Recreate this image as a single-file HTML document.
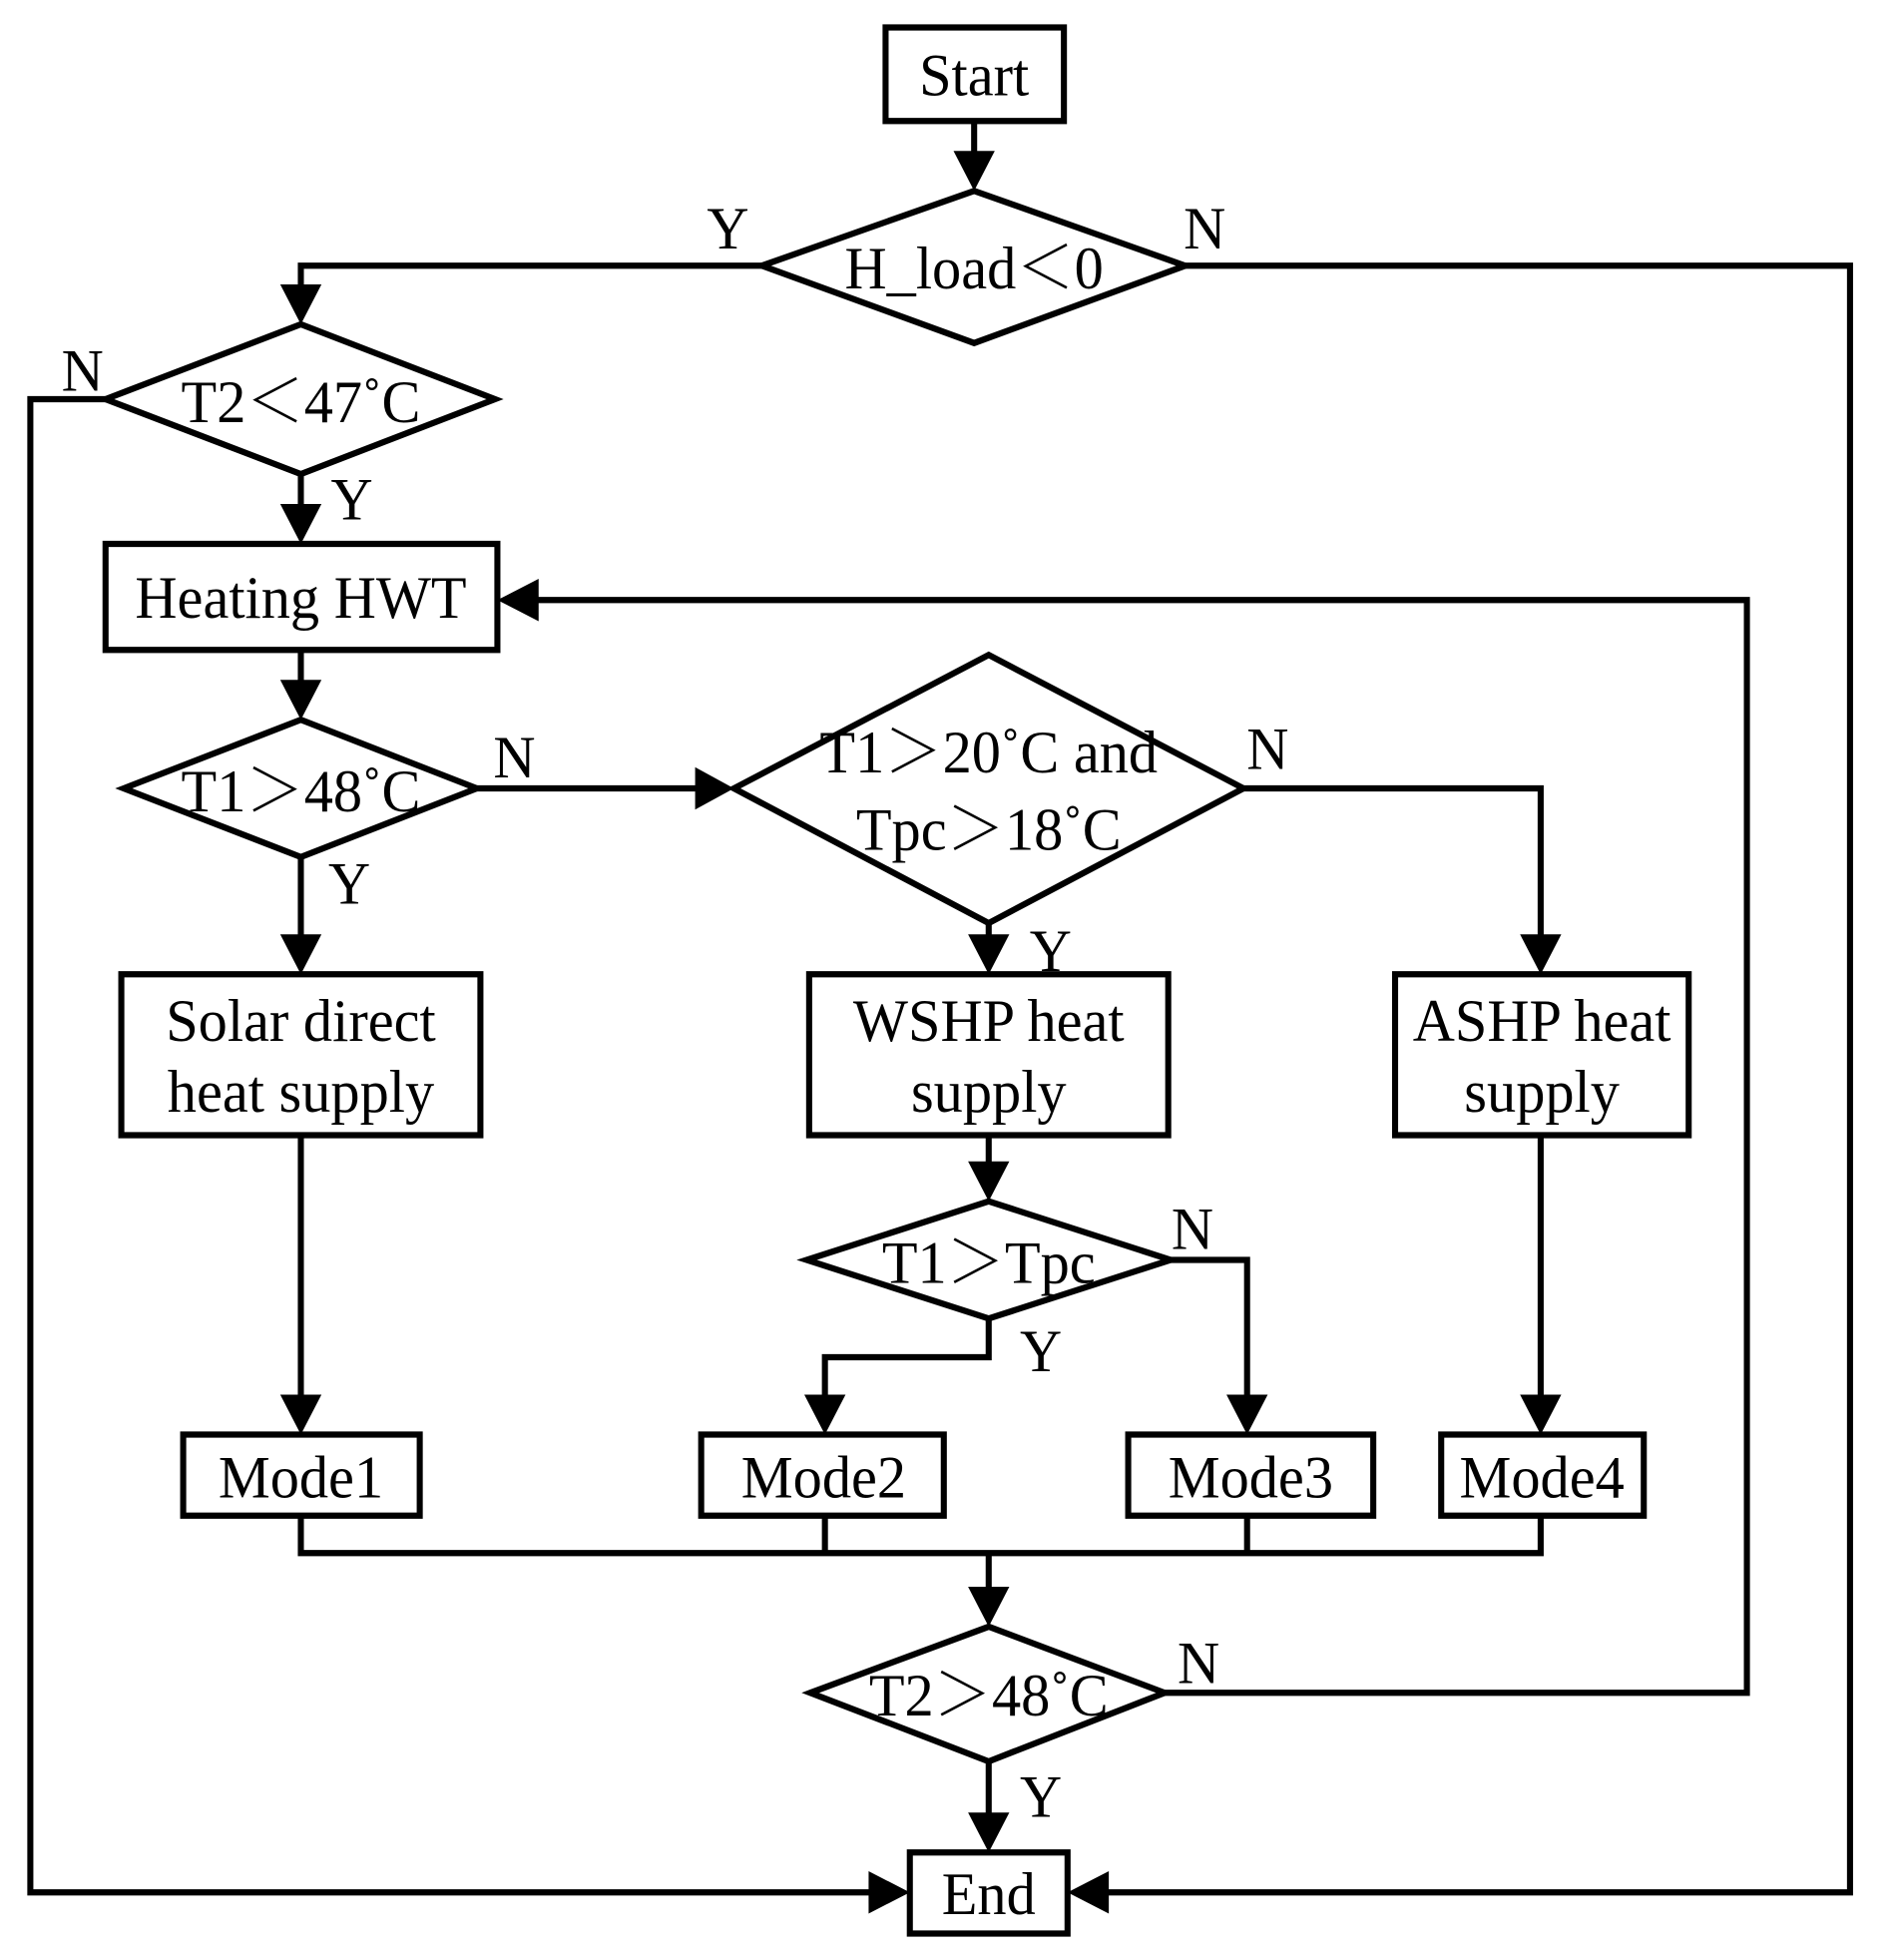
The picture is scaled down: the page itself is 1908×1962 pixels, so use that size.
<!DOCTYPE html>
<html><head><meta charset="utf-8"><style>
html,body{margin:0;padding:0;background:#fff;}
svg{display:block;}
text{font-family:"Liberation Serif","Noto Serif CJK SC",serif;font-size:48px;fill:#000;}
</style></head><body>
<svg width="1908" height="1962" viewBox="0 0 1569.5 1569.6" preserveAspectRatio="none" xmlns="http://www.w3.org/2000/svg">
<g fill="none" stroke="#000" stroke-width="5" stroke-linejoin="miter">
<rect x="730" y="22" width="147" height="75"/>
<rect x="87" y="436" width="323" height="85"/>
<rect x="100" y="781" width="296" height="129"/>
<rect x="667" y="781" width="296" height="129"/>
<rect x="1150" y="781" width="242" height="129"/>
<rect x="151" y="1150" width="195" height="65"/>
<rect x="578" y="1150" width="200" height="65"/>
<rect x="930" y="1150" width="202" height="65"/>
<rect x="1188" y="1150" width="167" height="65"/>
<rect x="750" y="1485" width="130" height="65"/>
<polygon points="628,213 803,153 977,213 803,275"/>
<polygon points="87,320 248,260 408,320 248,380"/>
<polygon points="102,632 248,577 393,632 248,687"/>
<polygon points="605,632 815,525 1025,632 815,740"/>
<polygon points="665,1010 815,963 965,1010 815,1057"/>
<polygon points="668,1357 815,1304 960,1357 815,1412"/>
<polyline points="803,97 803,125"/>
<polyline points="628,213 248,213 248,232"/>
<polyline points="977,213 1525,213 1525,1517 910,1517"/>
<polyline points="87,320 25,320 25,1517 720,1517"/>
<polyline points="248,380 248,408"/>
<polyline points="248,521 248,549"/>
<polyline points="393,632 577,632"/>
<polyline points="1025,632 1270,632 1270,753"/>
<polyline points="815,740 815,753"/>
<polyline points="248,687 248,753"/>
<polyline points="248,910 248,1122"/>
<polyline points="815,910 815,935"/>
<polyline points="1270,910 1270,1122"/>
<polyline points="965,1010 1028,1010 1028,1122"/>
<polyline points="815,1057 815,1088 680,1088 680,1122"/>
<polyline points="248,1215 248,1245 1270,1245 1270,1215"/>
<polyline points="680,1215 680,1245"/>
<polyline points="1028,1215 1028,1245"/>
<polyline points="815,1245 815,1276"/>
<polyline points="960,1357 1440,1357 1440,481 440,481"/>
<polyline points="815,1412 815,1457"/>
</g>
<g fill="#000">
<polygon points="786,121 820,121 803,153"/>
<polygon points="231,228 265,228 248,260"/>
<polygon points="231,404 265,404 248,436"/>
<polygon points="231,545 265,545 248,577"/>
<polygon points="231,749 265,749 248,781"/>
<polygon points="798,749 832,749 815,781"/>
<polygon points="1253,749 1287,749 1270,781"/>
<polygon points="798,931 832,931 815,963"/>
<polygon points="231,1118 265,1118 248,1150"/>
<polygon points="663,1118 697,1118 680,1150"/>
<polygon points="1011,1118 1045,1118 1028,1150"/>
<polygon points="1253,1118 1287,1118 1270,1150"/>
<polygon points="798,1272 832,1272 815,1304"/>
<polygon points="798,1453 832,1453 815,1485"/>
<polygon points="573,615 573,649 605,632"/>
<polygon points="716,1500 716,1534 750,1517"/>
<polygon points="914,1500 914,1534 880,1517"/>
<polygon points="444,464 444,498 410,481"/>
</g>
<g text-anchor="middle" dominant-baseline="central">
<text x="803" y="60">Start</text>
<text x="803" y="215">H_load＜0</text>
<text x="248" y="322">T2＜47˚C</text>
<text x="248" y="479">Heating HWT</text>
<text x="248" y="634">T1＞48˚C</text>
<text x="815" y="603">T1＞20˚C and</text>
<text x="815" y="665">Tpc＞18˚C</text>
<text x="248" y="818">Solar direct</text>
<text x="248" y="875">heat supply</text>
<text x="815" y="818">WSHP heat</text>
<text x="815" y="875">supply</text>
<text x="1271" y="818">ASHP heat</text>
<text x="1271" y="875">supply</text>
<text x="815" y="1012">T1＞Tpc</text>
<text x="248" y="1184">Mode1</text>
<text x="679" y="1184">Mode2</text>
<text x="1031" y="1184">Mode3</text>
<text x="1271" y="1184">Mode4</text>
<text x="815" y="1359">T2＞48˚C</text>
<text x="815" y="1518">End</text>
<text x="600" y="183">Y</text>
<text x="993" y="183">N</text>
<text x="68" y="297">N</text>
<text x="290" y="400">Y</text>
<text x="424" y="607">N</text>
<text x="288" y="708">Y</text>
<text x="1045" y="600">N</text>
<text x="866" y="762">Y</text>
<text x="983" y="985">N</text>
<text x="858" y="1083">Y</text>
<text x="988" y="1333">N</text>
<text x="858" y="1440">Y</text>
</g>
</svg>
</body></html>
